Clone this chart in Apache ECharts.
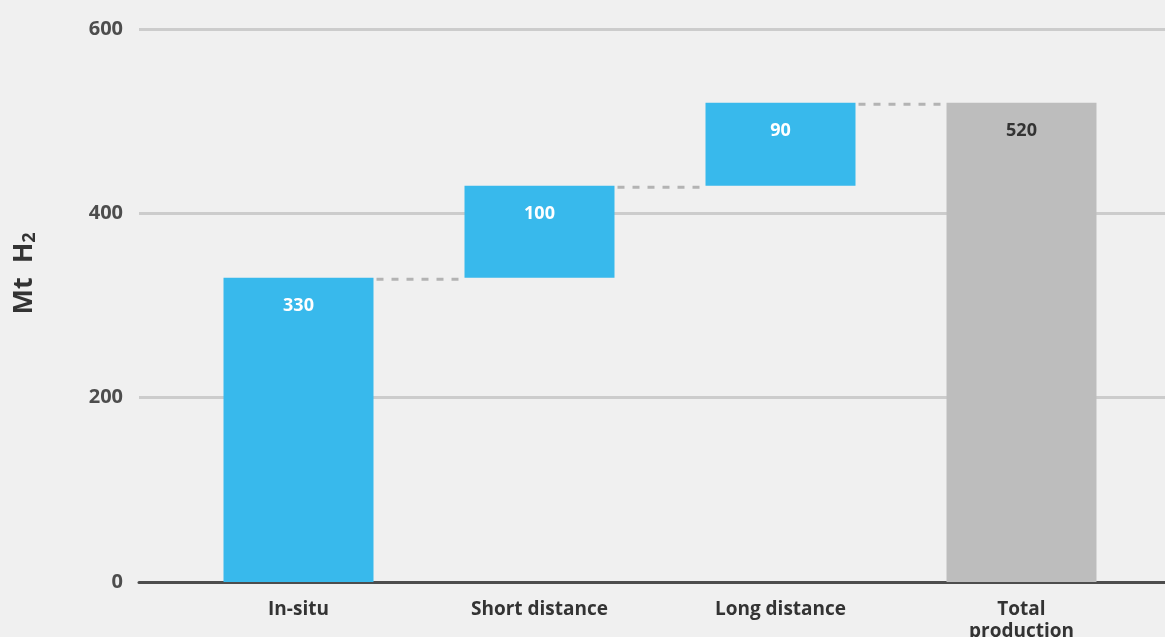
<!DOCTYPE html>
<html>
<head>
<meta charset="utf-8">
<script src="https://cdn.jsdelivr.net/npm/echarts@6/dist/echarts.min.js"></script>
<style>
  html, body { margin: 0; padding: 0; background: #f0f0f0; }
  #chart { width: 1165px; height: 637px; }
</style>
</head>
<body>
<div id="chart"></div>
<script>
// Hydrogen production by transport distance (waterfall)
const categories = ['In-situ', 'Short distance', 'Long distance', 'Total\nproduction'];
const steps = [330, 100, 90, 520];
const isTotal = [false, false, false, true];
const yTicks = [0, 200, 400, 600];

const BLUE = '#38b9ec';
const GREY = '#bdbdbd';
const BAR_W = 150;
const FONT = '"Open Sans", "DejaVu Sans", sans-serif';

// invisible offsets that lift each step onto the running total
const bases = [];
let running = 0;
steps.forEach((v, i) => {
  if (isTotal[i]) { bases.push(0); }
  else { bases.push(running); running += v; }
});

// level at which each bar ends, joined to the next bar by a dashed connector
const connectorLevels = [];
for (let i = 0; i < steps.length - 1; i++) {
  connectorLevels.push([i, bases[i] + steps[i]]);
}

function renderConnector(params, api) {
  const i = api.value(0);
  const level = api.value(1);
  const a = api.coord([i, level]);
  const b = api.coord([i + 1, level]);
  return {
    type: 'line',
    shape: { x1: a[0] + BAR_W / 2 + 3, y1: a[1] + 1.5, x2: b[0] - BAR_W / 2 - 1, y2: b[1] + 1.5 },
    style: { stroke: '#b3b3b3', lineWidth: 3, lineDash: [7, 8] }
  };
}

const chart = echarts.init(document.getElementById('chart'));
chart.setOption({
  backgroundColor: '#f0f0f0',
  animation: false,
  grid: [
    { left: 178, right: 23, top: 29, bottom: 55, outerBoundsMode: 'none', containLabel: false },
    { left: 139, right: 0, top: 29, bottom: 55, outerBoundsMode: 'none', containLabel: false }
  ],
  xAxis: [
    {
      type: 'category', gridIndex: 0, data: categories,
      axisLine: { show: false }, axisTick: { show: false },
      axisLabel: {
        margin: 17, color: '#333', fontSize: 19, fontWeight: 'bold',
        fontFamily: FONT, lineHeight: 22
      }
    },
    {
      type: 'value', gridIndex: 1, min: 0, max: 1,
      axisLine: { show: true, lineStyle: { color: '#4d4d4d', width: 3 } },
      axisTick: { show: false }, axisLabel: { show: false }, splitLine: { show: false }
    }
  ],
  yAxis: [
    { type: 'value', gridIndex: 0, min: 0, max: 600, show: false },
    {
      type: 'value', gridIndex: 1, min: 0, max: 600, interval: 200,
      axisLine: { show: false }, axisTick: { show: false },
      splitLine: { lineStyle: { color: '#cccccc', width: 3 } },
      axisLabel: {
        margin: 16, color: '#4d4d4d', fontSize: 20, fontWeight: 'bold', fontFamily: FONT,
        formatter: v => (yTicks.indexOf(v) >= 0 ? String(v) : '')
      },
      name: '{a|Mt  H}{b|2}',
      nameLocation: 'middle',
      nameGap: 100,
      nameRotate: 90,
      nameTextStyle: {
        padding: [0, 0, 0, 64],
        rich: {
          a: { fontSize: 27, fontWeight: 'bold', color: '#333', fontFamily: FONT },
          b: { fontSize: 18, fontWeight: 'bold', color: '#333', fontFamily: FONT, padding: [12, 0, 0, 0] }
        }
      }
    }
  ],
  series: [
    {
      type: 'custom', xAxisIndex: 0, yAxisIndex: 0, z: 1, silent: true,
      renderItem: renderConnector,
      data: connectorLevels
    },
    {
      type: 'bar', xAxisIndex: 0, yAxisIndex: 0, stack: 'w', z: 2,
      barWidth: BAR_W,
      itemStyle: { color: 'transparent' },
      data: bases,
      silent: true
    },
    {
      type: 'bar', xAxisIndex: 0, yAxisIndex: 0, stack: 'w', z: 3,
      barWidth: BAR_W,
      data: steps.map((v, i) => ({
        value: v,
        itemStyle: { color: isTotal[i] ? GREY : BLUE },
        label: { color: isTotal[i] ? '#333' : '#fff' }
      })),
      label: {
        show: true, position: 'insideTop', distance: 19,
        fontSize: 18, fontWeight: 'bold', fontFamily: FONT
      }
    }
  ]
});
</script>
</body>
</html>
